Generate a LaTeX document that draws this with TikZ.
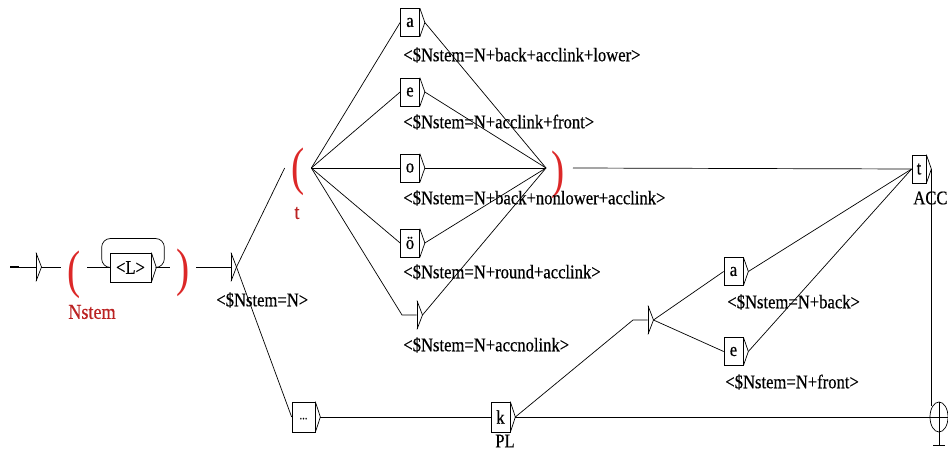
\documentclass[tikz,border=0pt]{standalone}
\usepackage{fontspec}
\setmainfont{Liberation Serif}[FakeStretch=0.86,FakeBold=0.5]
\newfontfamily\ctxfont{Liberation Serif}[FakeStretch=0.75]
\usetikzlibrary{shapes.geometric,positioning}
\definecolor{ctxred}{RGB}{220,40,40}
\tikzset{
  tok/.style={draw, inner sep=0pt, minimum width=0.38cm, minimum height=0.56cm, font=\fontsize{11}{12}\selectfont},
  hollow/.style={inner sep=0pt, minimum width=0pt, minimum height=0.56cm},
  outp/.style={anchor=west, inner sep=0pt, font=\fontsize{11}{12}\selectfont},
  ctx/.style={text=ctxred, inner sep=0pt, minimum width=0.52cm, font=\ctxfont\fontsize{30}{30}\selectfont},
  ctxlab/.style={text=ctxred!85!black, inner sep=0pt, font=\fontsize{12}{12}\selectfont}
}

\begin{document}
\begin{tikzpicture}[x=0.02cm,y=-0.02cm]
\useasboundingbox (0,0) rectangle (948,456);

\coordinate (start) at (10,267);

% empty states
\node (init) at (36,267) [hollow] {};
\node (nN) at (231,267) [hollow] {};
\node (nacc) at (417,315) [hollow] {};
\node (nbr) at (648,320) [hollow] {};

% boxes
\node (bL) at (130.5,267.5) [tok, minimum width=0.82cm, minimum height=0.58cm] {<L>};
\node (ba) at (410,22.5) [tok] {a};
\node (be) at (410,92) [tok] {e};
\node (bo) at (410,168) [tok] {o};
\node (boe) at (410,243) [tok] {ö};
\node (bdots) at (303.5,417) [tok, minimum width=0.46cm, minimum height=0.6cm] {\raisebox{-0.9mm}{\fontsize{7}{7}\selectfont...}};
\node (bk) at (500.5,417) [tok, minimum height=0.6cm] {k};
\node (ba2) at (733.5,271.5) [tok] {a};
\node (be2) at (733.5,351.5) [tok] {e};
\node (bt) at (919,169) [tok, minimum width=0.28cm] {t};

% context marks
\node (p1) at (74,275) [ctx] {(};
\node (p4) at (183,273) [ctx] {)};
\node (p2) at (298,172) [ctx] {(};
\node (p3) at (558,175) [ctx, minimum width=0.3cm] {)};
\node (l1) at (92,312) [ctxlab] {Nstem};
\node (l2) at (297,213) [ctxlab] {t};

% final state
\node (fin) at (939,417) [draw, ellipse, inner sep=0pt, minimum width=0.36cm, minimum height=0.6cm] {};

% outputs
\node (oN) at (216,300) [outp] {<\$Nstem=N>};
\node (oa) at (403,55) [outp] {<\$Nstem=N+back+acclink+lower>};
\node (oe) at (403,122) [outp] {<\$Nstem=N+acclink+front>};
\node (oo) at (403,198) [outp] {<\$Nstem=N+back+nonlower+acclink>};
\node (ooe) at (403,272) [outp] {<\$Nstem=N+round+acclink>};
\node (oacc) at (403,345) [outp] {<\$Nstem=N+accnolink>};
\node (oa2) at (727,302) [outp] {<\$Nstem=N+back>};
\node (oe2) at (725,382) [outp] {<\$Nstem=N+front>};
\node (oACC) at (913,198) [outp] {ACC};
\node (oPL) at (505,441) [inner sep=0pt, font=\fontsize{11}{12}\selectfont] {PL};

\foreach \n in {init,nN,nacc,nbr} {
\coordinate (\n-o) at ([xshift=0.11cm]\n.center);
\draw (\n.north) -- (\n.south);
\draw (\n.north) -- (\n-o) -- (\n.south);
}
\foreach \b in {bL,ba,be,bo,boe,bdots,bk,ba2,be2,bt} {
\coordinate (\b-o) at ([xshift=0.1cm]\b.east);
\draw (\b.north east) -- (\b-o) -- (\b.south east);
}

\draw[line width=1.6pt] (start) -- ++(9,0);
\draw (start) -- (init);
\draw (init-o) -- (init-o -| p1.west);
\draw (bL.west -| p1.east) -- (bL.west);
\draw[rounded corners=5pt] (bL-o) -| ([xshift=0.16cm,yshift=0.58cm]bL-o) -| ([xshift=-0.16cm]bL.west) -- (bL.west);
\draw (bL-o) -- (bL-o -| p4.west);
\draw (nN -| p4.east) -- (nN);
\draw (nN-o) -- (p2.west |- bo.west);
\draw (nN-o) -- (bdots.west);
\foreach \b in {ba,be,bo,boe} {
\draw (p2.east |- bo.west) -- (\b.west);
\draw (\b-o) -- ([xshift=-0.24cm]p3.center |- bo.west);
}
\draw (p2.east |- bo.west) -- ([xshift=-0.3cm]nacc.center) -- (nacc);
\draw (nacc-o) -- ([xshift=-0.24cm]p3.center |- bo.west);
\draw ([xshift=0.3cm]p3.center |- bo.west) -- (bt.west);
\draw (bdots-o) -- (bk.west);
\draw (bk-o) -- (fin.west);
\draw (bk-o) -- ([xshift=-0.3cm]nbr.center) -- (nbr);
\draw (nbr-o) -- (ba2.west);
\draw (nbr-o) -- (be2.west);
\draw (ba2-o) -- (bt.west);
\draw (be2-o) -- (bt.west);
\draw (bt-o) -- (bt-o |- fin.north west);

% cross of the final state
\draw (fin.west) -- (fin.east);
\draw (fin.north) -- ([yshift=-0.26cm]fin.south) coordinate (tick);
\draw ([xshift=-0.12cm]tick) -- ([xshift=0.12cm]tick);
\end{tikzpicture}
\end{document}
